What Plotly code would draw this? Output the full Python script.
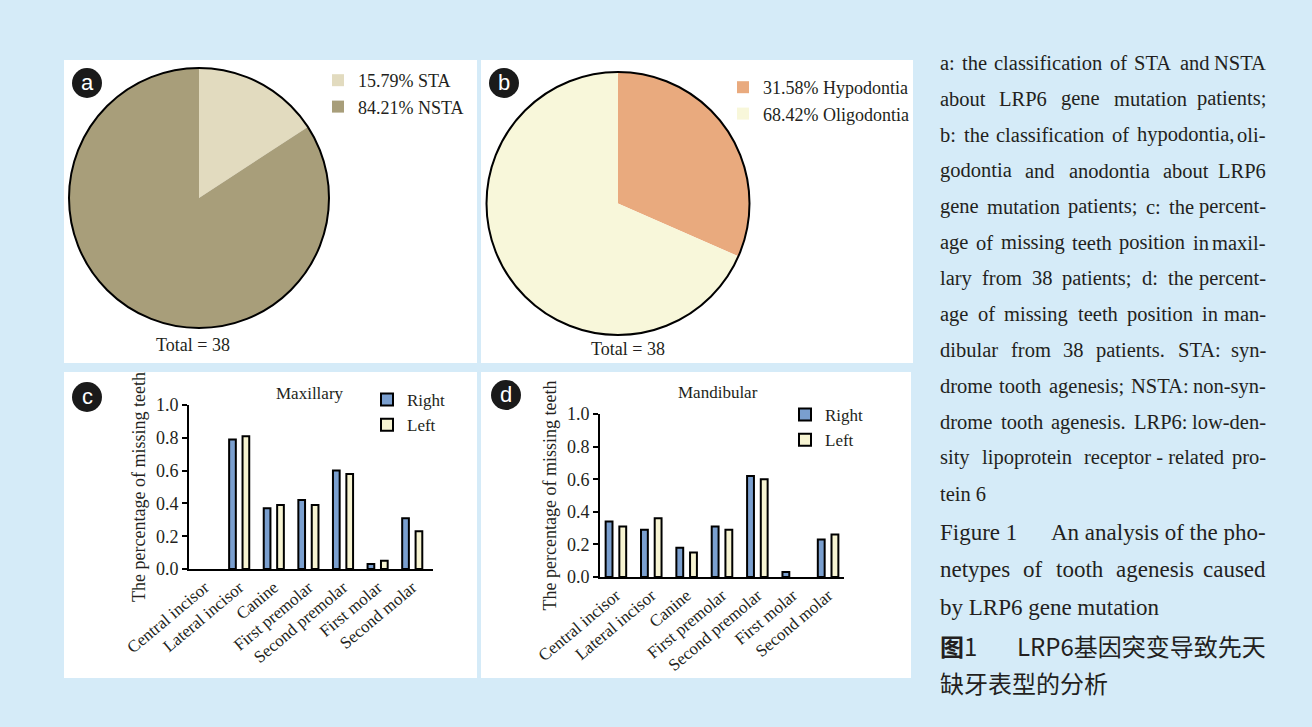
import plotly.graph_objects as go

W, H = 1312, 727

# ---------------- data ----------------
sta_labels = ["STA", "NSTA"]
sta_counts = [6, 32]
sta_colors = ["#e2dbbf", "#a89e7a"]

type_labels = ["Hypodontia", "Oligodontia"]
type_counts = [12, 26]
type_colors = ["#e9aa7e", "#f8f7da"]

teeth = ["Central incisor", "Lateral incisor", "Canine", "First premolar",
         "Second premolar", "First molar", "Second molar"]
max_right = [0, 0.79, 0.37, 0.42, 0.60, 0.03, 0.31]
max_left = [0, 0.81, 0.39, 0.39, 0.58, 0.05, 0.23]
man_right = [0.34, 0.29, 0.18, 0.31, 0.62, 0.03, 0.23]
man_left = [0.31, 0.36, 0.15, 0.29, 0.60, 0, 0.26]
y_ticks = [0.0, 0.2, 0.4, 0.6, 0.8, 1.0]
side_names = ["Right", "Left"]
side_colors = ["#7a9fcf", "#f7f4d2"]
panel_titles = ["Maxillary", "Mandibular"]
y_title = "The percentage of missing teeth"
panel_letters = ["a", "b", "c", "d"]

caption_body = [
    "a: the classification of STA and NSTA",
    "about LRP6 gene mutation patients;",
    "b: the classification of hypodontia, oli-",
    "godontia and anodontia about LRP6",
    "gene mutation patients; c: the percent-",
    "age of missing teeth position in maxil-",
    "lary from 38 patients; d: the percent-",
    "age of missing teeth position in man-",
    "dibular from 38 patients. STA: syn-",
    "drome tooth agenesis; NSTA: non-syn-",
    "drome tooth agenesis. LRP6: low-den-",
    "sity lipoprotein receptor\u00a0-\u00a0related pro-",
    "tein 6",
]
caption_title_head = "Figure 1"
caption_title = [
    "An analysis of the pho-",
    "netypes of tooth agenesis caused",
    "by LRP6 gene mutation",
]
caption_cn_head = "图1"
caption_cn = ["LRP6基因突变导致先天", "缺牙表型的分析"]

# ---------------- helpers ----------------
SERIF = "Liberation Serif"
TXT = "#231f20"
BG = "#d5ebf8"


def X(p):
    return p / W


def Y(p):
    return 1 - p / H


TW = {" ": 250, "\u00a0": 250, ":": 278, ";": 278, ",": 250, ".": 250, "-": 333, "%": 833,
      "=": 564, "(": 333, ")": 333}
for ch in "0123456789":
    TW[ch] = 500
TW.update(dict(zip("abcdefghijklmnopqrstuvwxyz",
                   [444, 500, 444, 500, 444, 333, 500, 500, 278, 278, 500, 278, 778,
                    500, 500, 500, 500, 333, 389, 278, 500, 500, 722, 500, 500, 444])))
TW.update(dict(zip("ABCDEFGHIJKLMNOPQRSTUVWXYZ",
                   [722, 667, 667, 722, 611, 556, 722, 722, 333, 389, 722, 611, 889,
                    722, 722, 556, 722, 667, 556, 611, 722, 722, 944, 722, 722, 611])))


def tw(s, size):
    return sum(TW.get(c, 500) for c in s) * size / 1000.0


fig = go.Figure()
annos = []
shapes = []


def txt(text, xp, yp, size, anchor="left", font=SERIF, color=TXT, **kw):
    annos.append(dict(text=text, x=X(xp), y=Y(yp), xref="paper", yref="paper",
                      xanchor=anchor, yanchor="middle", showarrow=False,
                      font=dict(family=font, size=size, color=color), **kw))


def justified(line, yp, size, left, right, justify=True):
    words = line.split(" ")
    if not justify or len(words) == 1:
        txt(line, left, yp, size)
        return
    widths = [tw(w, size) for w in words]
    gap = (right - left - sum(widths)) / (len(words) - 1)
    xcur = left
    for i, w in enumerate(words):
        if i == len(words) - 1:
            txt(w, right, yp, size, anchor="right")
        else:
            txt(w, xcur, yp, size)
        xcur += widths[i] + gap


# ---------------- panels (white boxes) ----------------
panels = [(64, 60, 477, 363), (481, 60, 913, 363), (64, 372, 477, 678), (481, 372, 911, 678)]
for (x0, y0, x1, y1) in panels:
    shapes.append(dict(type="rect", xref="paper", yref="paper", x0=X(x0), x1=X(x1),
                       y0=Y(y1), y1=Y(y0), fillcolor="white", line=dict(width=0), layer="below"))

# ---------------- pies ----------------
def pie(labels, counts, colors, dom, legend):
    tot = sum(counts)
    names = [f"{100 * c / tot:.2f}% {l}" for l, c in zip(labels, counts)]
    fig.add_trace(go.Pie(labels=names, values=counts, sort=False, direction="clockwise",
                         rotation=0, textinfo="none", hoverinfo="label+value",
                         marker=dict(colors=colors, line=dict(width=0)),
                         domain=dict(x=[X(dom[0]), X(dom[2])], y=[Y(dom[3]), Y(dom[1])]),
                         legend=legend, showlegend=True))
    fig.add_trace(go.Pie(labels=["outline"], values=[1], textinfo="none", hoverinfo="skip",
                         marker=dict(colors=["rgba(0,0,0,0)"], line=dict(width=2, color="black")),
                         domain=dict(x=[X(dom[0]), X(dom[2])], y=[Y(dom[3]), Y(dom[1])]),
                         showlegend=False))
    return tot


tot_a = pie(sta_labels, sta_counts, sta_colors, (69, 68, 329, 328), "legend")
tot_b = pie(type_labels, type_counts, type_colors, (486.5, 72, 749.5, 335), "legend2")
txt(f"Total = {tot_a}", 193, 345, 18, anchor="center")
txt(f"Total = {tot_b}", 628, 349, 18, anchor="center")

# ---------------- bars ----------------
for k, (rv, lv) in enumerate([(max_right, max_left), (man_right, man_left)]):
    ax = "" if k == 0 else "2"
    for name, vals, col in zip(side_names, [rv, lv], side_colors):
        # zero-height bars are not drawn (as in the original figure)
        shown = [v if v > 0 else None for v in vals]
        fig.add_trace(go.Bar(x=teeth, y=shown, name=name, xaxis="x" + ax, yaxis="y" + ax,
                             customdata=vals, hovertemplate="%{x}: %{customdata}<extra>" + name + "</extra>",
                             marker=dict(color=col, line=dict(color="black", width=2)),
                             legend="legend3" if k == 0 else "legend4"))

axis_common_x = dict(type="category", showline=True, linecolor="black", linewidth=2,
                     ticks="", tickangle=-40, tickfont=dict(family=SERIF, size=17, color=TXT),
                     showgrid=False, zeroline=False, fixedrange=True, automargin=False,
                     layer="above traces")
axis_common_y = dict(range=[0, 1.0], tickvals=y_ticks, tickformat=".1f", showline=True,
                     linecolor="black", linewidth=2, ticks="outside", ticklen=5, tickwidth=2,
                     tickcolor="black", tickfont=dict(family=SERIF, size=18, color=TXT),
                     showgrid=False, zeroline=False, fixedrange=True, automargin=False,
                     title=dict(text=y_title, font=dict(family=SERIF, size=18, color=TXT), standoff=6))

fig.update_layout(
    xaxis=dict(domain=[X(189), X(433)], range=[-0.45, 6.6], anchor="y", **axis_common_x),
    yaxis=dict(domain=[Y(569), Y(405)], anchor="x", **axis_common_y),
    xaxis2=dict(domain=[X(600), X(844)], range=[-0.45, 6.45], anchor="y2", **axis_common_x),
    yaxis2=dict(domain=[Y(577), Y(414)], anchor="x2", **axis_common_y),
)

txt(panel_titles[0], 310, 393, 17, anchor="center")
txt(panel_titles[1], 718, 392, 17, anchor="center")

# ---------------- badges ----------------
badge_pos = [(87, 83), (504, 83), (87, 397), (506, 395)]
for letter, (cx, cy) in zip(panel_letters, badge_pos):
    shapes.append(dict(type="circle", xref="paper", yref="paper", x0=X(cx - 15), x1=X(cx + 15),
                       y0=Y(cy + 15), y1=Y(cy - 15), fillcolor="#1a1a1a", line=dict(width=0)))
    txt(letter, cx, cy - 1, 22, anchor="center", font="Liberation Sans", color="white")

# ---------------- caption ----------------
LEFT, RIGHT = 938, 1268
y0, step = 63, 35.9
for i, line in enumerate(caption_body):
    justified(line, y0 + i * step, 20.5, LEFT, RIGHT, justify=(i < len(caption_body) - 1))

txt(caption_title_head, LEFT, 532, 23)
txt(caption_title[0], RIGHT, 532, 23, anchor="right")
justified(caption_title[1], 569, 23, LEFT, RIGHT, justify=True)
justified(caption_title[2], 607, 23, LEFT, RIGHT, justify=False)

txt("<b>" + caption_cn_head[0] + "</b>" + caption_cn_head[1:], LEFT, 645, 24, font="Noto Sans CJK SC")
txt(caption_cn[0], RIGHT, 645, 24, anchor="right", font="Noto Sans CJK SC")
txt(caption_cn[1], LEFT, 682, 24, font="Noto Sans CJK SC")

legend_common = dict(bgcolor="rgba(0,0,0,0)", borderwidth=0, xanchor="left", yanchor="top",
                     orientation="v")
fig.update_layout(
    width=W, height=H, autosize=False,
    margin=dict(l=0, r=0, t=0, b=0, autoexpand=False),
    paper_bgcolor=BG, plot_bgcolor="rgba(0,0,0,0)",
    barmode="group", bargap=0.225, bargroupgap=0.5,
    shapes=shapes, annotations=annos,
    legend=dict(x=X(318), y=Y(62), font=dict(family=SERIF, size=18, color=TXT), **legend_common),
    legend2=dict(x=X(723), y=Y(69), font=dict(family=SERIF, size=18, color=TXT), **legend_common),
    legend3=dict(x=X(367), y=Y(382), font=dict(family=SERIF, size=17, color=TXT), **legend_common),
    legend4=dict(x=X(785), y=Y(397), font=dict(family=SERIF, size=17, color=TXT), **legend_common),
)

fig.write_html("out.html")
